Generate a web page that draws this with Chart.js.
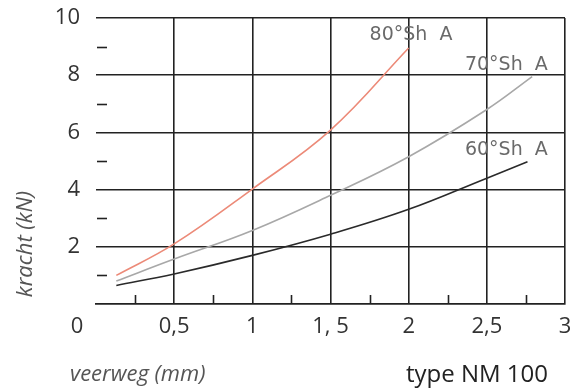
<!DOCTYPE html>
<html>
<head>
<meta charset="utf-8">
<script src="https://cdn.jsdelivr.net/npm/chart.js@4"></script>
<style>
  html, body { margin: 0; padding: 0; background: #fff; }
  canvas { display: block; }
</style>
</head>
<body>
<canvas id="chart" width="579" height="392"></canvas>
<script>
// meetwaarden
const veerweg80 = [0.13, 0.5, 1, 1.5, 2];
const kracht80 = [1.0, 2.1, 4.02, 6.08, 8.95];
const veerweg70 = [0.13, 0.5, 1, 1.5, 2, 2.5, 2.79];
const kracht70 = [0.8, 1.57, 2.57, 3.8, 5.15, 6.8, 7.95];
const veerweg60 = [0.13, 0.5, 1, 1.5, 2, 2.5, 2.76];
const kracht60 = [0.65, 1.05, 1.7, 2.44, 3.31, 4.4, 4.97];

const hardheid = ['80°Sh  A', '70°Sh  A', '60°Sh  A'];
const labelX = [1.75, 2.36, 2.36];
const labelY = [9.4, 8.36, 5.38];

const xTickValues = [0, 0.5, 1, 1.5, 2, 2.5, 3];
const xTickLabels = ['0', '0,5', '1', '1, 5', '2', '2,5', '3'];
const xMinor = [0.25, 0.75, 1.25, 1.75, 2.25, 2.75];
const yMinor = [1, 3, 5, 7, 9];

const pts = (xs, ys) => xs.map((x, i) => ({ x: x, y: ys[i] }));

const extras = {
    id: 'extras',
    afterDraw(chart) {
        const ctx = chart.ctx;
        const xs = chart.scales.x, ys = chart.scales.y;
        const area = chart.chartArea;
        ctx.save();
        // kleine streepjes
        ctx.strokeStyle = '#222';
        ctx.lineWidth = 1.6;
        xMinor.forEach(v => {
            const px = Math.round(xs.getPixelForValue(v)) + 0.5;
            ctx.beginPath();
            ctx.moveTo(px, area.bottom);
            ctx.lineTo(px, area.bottom - 9);
            ctx.stroke();
        });
        yMinor.forEach(v => {
            const py = Math.round(ys.getPixelForValue(v)) + 0.5;
            ctx.beginPath();
            ctx.moveTo(area.left + 1, py);
            ctx.lineTo(area.left + 11, py);
            ctx.stroke();
        });
        // labels bij de curves
        ctx.font = '19px "DejaVu Sans"';
        ctx.fillStyle = '#6a6a6a';
        ctx.textBaseline = 'middle';
        ctx.textAlign = 'left';
        hardheid.forEach((t, i) => {
            ctx.fillText(t, xs.getPixelForValue(labelX[i]), ys.getPixelForValue(labelY[i]));
        });
        // x-label "0" in de hoek
        ctx.font = '22px "Open Sans"';
        ctx.fillStyle = '#333';
        ctx.textAlign = 'center';
        ctx.fillText('0', 77, 327);
        // astitels
        ctx.font = 'italic 22px "Open Sans"';
        ctx.fillStyle = '#555';
        ctx.textAlign = 'left';
        ctx.fillText('veerweg (mm)', 70, 375);
        ctx.save();
        ctx.translate(26, 244);
        ctx.rotate(-Math.PI / 2);
        ctx.textAlign = 'center';
        ctx.fillText('kracht (kN)', 0, 0);
        ctx.restore();
        ctx.font = '24px "Open Sans"';
        ctx.fillStyle = '#222';
        ctx.textAlign = 'right';
        ctx.fillText('type NM 100', 548, 375);
        ctx.restore();
    }
};

new Chart(document.getElementById('chart'), {
    type: 'scatter',
    data: {
        datasets: [
            { label: hardheid[0], data: pts(veerweg80, kracht80), borderColor: '#ec8a78' },
            { label: hardheid[1], data: pts(veerweg70, kracht70), borderColor: '#a8a8a8' },
            { label: hardheid[2], data: pts(veerweg60, kracht60), borderColor: '#2a2a2a' }
        ].map(d => Object.assign(d, {
            showLine: true,
            pointRadius: 0,
            borderWidth: 1.6,
            tension: 0.4
        }))
    },
    options: {
        responsive: false,
        animation: false,
        layout: { padding: { left: 0, right: 14, top: 18, bottom: 0 } },
        plugins: { legend: { display: false }, tooltip: { enabled: false } },
        scales: {
            x: {
                type: 'linear',
                min: 0, max: 3,
                afterBuildTicks: s => { s.ticks = xTickValues.map(v => ({ value: v })); },
                afterFit: s => { s.height = 88; s.paddingLeft = 0; s.paddingRight = 0; },
                ticks: {
                    font: { family: 'Open Sans', size: 22 },
                    color: '#333',
                    padding: 10,
                    maxRotation: 0,
                    autoSkip: false,
                    callback: v => v === 0 ? '' : xTickLabels[xTickValues.indexOf(v)]
                },
                grid: {
                    drawTicks: false,
                    color: c => c.tick && c.tick.value === 0 ? 'rgba(0,0,0,0)' : '#222',
                    lineWidth: 1.6
                },
                border: { display: true, color: '#222', width: 1.8 }
            },
            y: {
                min: 0, max: 10,
                afterFit: s => { s.width = 96; s.paddingTop = 0; s.paddingBottom = 0; },
                ticks: {
                    stepSize: 2,
                    font: { family: 'Open Sans', size: 22 },
                    color: '#333',
                    padding: 16,
                    callback: v => v === 0 ? '' : v
                },
                grid: {
                    drawTicks: false,
                    color: c => c.tick && c.tick.value === 0 ? 'rgba(0,0,0,0)' : '#222',
                    lineWidth: 1.6
                },
                border: { display: false }
            }
        }
    },
    plugins: [extras]
});
</script>
</body>
</html>
